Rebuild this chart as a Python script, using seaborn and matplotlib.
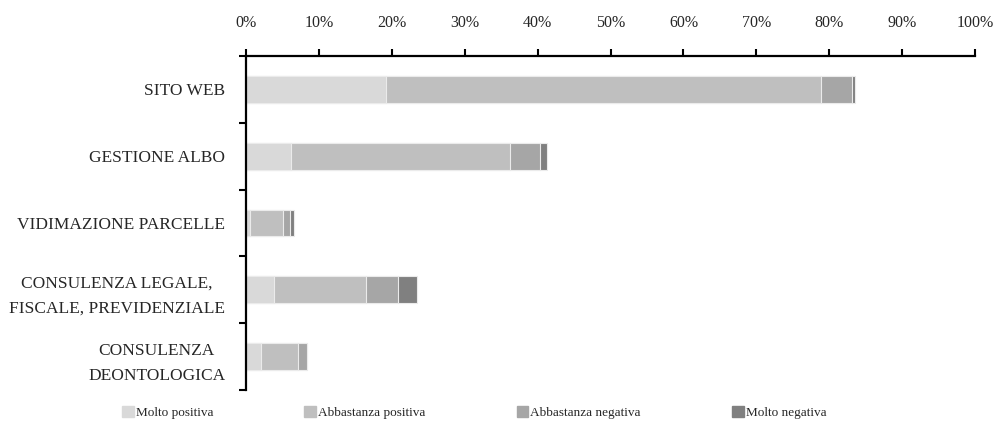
import matplotlib
matplotlib.use('Agg')
import matplotlib.pyplot as plt
import matplotlib.patches as mpatches
import numpy as np
import pandas as pd
import seaborn as sns


categories = ['SITO WEB', 'GESTIONE ALBO', 'VIDIMAZIONE PARCELLE',
              'CONSULENZA LEGALE,\nFISCALE, PREVIDENZIALE',
              'CONSULENZA\nDEONTOLOGICA']
molto_positiva = [19.2, 6.2, 0.6, 3.9, 2.0]
abbastanza_positiva = [59.7, 30.0, 4.5, 12.5, 5.1]
abbastanza_negativa = [4.2, 4.1, 1.0, 4.5, 1.2]
molto_negativa = [0.4, 1.0, 0.5, 2.6, 0.0]

series_names = ['Molto positiva', 'Abbastanza positiva',
                'Abbastanza negativa', 'Molto negativa']
colors = ['#d9d9d9', '#bfbfbf', '#a6a6a6', '#808080']


def stacked_bars():
    sns.set_style('white')
    plt.rcParams['font.family'] = ['Liberation Serif', 'DejaVu Serif']

    df = pd.DataFrame({
        'categoria': categories,
        series_names[0]: molto_positiva,
        series_names[1]: abbastanza_positiva,
        series_names[2]: abbastanza_negativa,
        series_names[3]: molto_negativa,
    })
    cum = df[series_names].cumsum(axis=1)

    fig = plt.figure(figsize=(9.94, 4.26), dpi=100)
    ax = fig.add_axes([0.2475, 0.0845, 0.7335, 0.784])

    # draw from the longest cumulative down, so each segment sits on top
    for name, col in reversed(list(zip(series_names, colors))):
        sns.barplot(x=cum[name], y=df['categoria'], orient='h', color=col,
                    width=0.4, edgecolor='#ebebeb', linewidth=0.8,
                    saturation=1, ax=ax)

    ax.set_xlim(0, 100)
    ax.set_ylim(len(categories) - 0.5, -0.5)
    ax.set_xticks(np.arange(0, 101, 10))
    ax.set_xticklabels([f'{v}%' for v in range(0, 101, 10)])
    ax.xaxis.tick_top()
    ax.set_xlabel('')
    ax.set_ylabel('')

    ax.set_yticks(np.arange(len(categories)))
    ax.set_yticklabels(categories, fontsize=12.5, linespacing=1.75,
                       multialignment='center')
    ax.set_yticks(np.arange(len(categories) + 1) - 0.5, minor=True)
    ax.tick_params(axis='y', which='major', length=0, pad=15)
    ax.tick_params(axis='y', which='minor', length=5, width=1.5,
                   direction='out', color='black', left=True)
    ax.tick_params(axis='x', which='major', length=5, width=1.5,
                   direction='out', color='black', top=True, labelsize=11.5,
                   pad=13)

    for side in ['right', 'bottom']:
        ax.spines[side].set_visible(False)
    for side in ['top', 'left']:
        ax.spines[side].set_color('black')
        ax.spines[side].set_linewidth(1.6)

    handles = [mpatches.Patch(color=c, label=n)
               for n, c in zip(series_names, colors)]
    fig.legend(handles=handles, loc='lower center', ncol=4,
               bbox_to_anchor=(0.477, -0.012), frameon=False, fontsize=9.5,
               handlelength=0.9, handleheight=0.9, handletextpad=0.15,
               columnspacing=6.9)

    plt.savefig('out.png', dpi=100)


if __name__ == '__main__':
    stacked_bars()
